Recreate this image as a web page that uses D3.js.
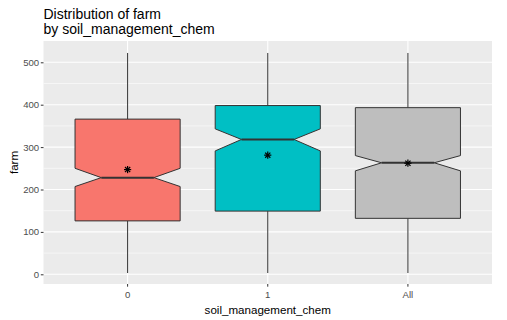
<!DOCTYPE html>
<html>
<head>
<meta charset="utf-8">
<script src="https://cdn.jsdelivr.net/npm/d3@7"></script>
<style>
body { margin: 0; background: #fff; }
svg { display: block; font-family: "Liberation Sans", Arial, sans-serif; }
</style>
</head>
<body>
<svg id="chart" width="507" height="320"></svg>
<script>
// ---- data ----
const categories = ["0", "1", "All"];
const whiskerLow = [3, 3, 3];
const q1 = [126, 149, 132];
const medians = [228, 318, 263];
const q3 = [366, 398, 393];
const whiskerHigh = [522, 522, 522];
const notchLow = [207, 291, 244];
const notchHigh = [250, 343, 280];
const means = [247, 281, 262];
const fillColors = ["#F8766D", "#00BFC4", "#BEBEBE"];
const yTicks = [0, 100, 200, 300, 400, 500];
const yMinor = [50, 150, 250, 350, 450];

const titleLines = ["Distribution of farm", "by soil_management_chem"];
const xTitle = "soil_management_chem";
const yTitle = "farm";

// ---- layout ----
const svg = d3.select("#chart");
const panel = { left: 43.5, right: 492, top: 41, bottom: 284 };

const y = d3.scaleLinear().domain([0, 500]).range([274.3, 62.3]);
const x = d3.scaleBand().domain(categories)
  .range([panel.left, panel.right]).paddingOuter(0.1).paddingInner(0);
const bw = x.bandwidth();
const cx = c => x(c) + bw / 2;
const boxW = bw * 0.75;

// panel background
svg.append("rect")
  .attr("x", panel.left).attr("y", panel.top)
  .attr("width", panel.right - panel.left).attr("height", panel.bottom - panel.top)
  .attr("fill", "#EBEBEB");

const grid = svg.append("g");
grid.selectAll("line.minor").data(yMinor).join("line")
  .attr("x1", panel.left).attr("x2", panel.right)
  .attr("y1", d => y(d)).attr("y2", d => y(d))
  .attr("stroke", "#fff").attr("stroke-width", 0.55);
grid.selectAll("line.major").data(yTicks).join("line")
  .attr("x1", panel.left).attr("x2", panel.right)
  .attr("y1", d => y(d)).attr("y2", d => y(d))
  .attr("stroke", "#fff").attr("stroke-width", 1.1);
grid.selectAll("line.xg").data(categories).join("line")
  .attr("x1", d => cx(d)).attr("x2", d => cx(d))
  .attr("y1", panel.top).attr("y2", panel.bottom)
  .attr("stroke", "#fff").attr("stroke-width", 1.1);

// boxes
const boxes = svg.append("g");
categories.forEach((c, i) => {
  const xc = cx(c);
  const l = xc - boxW / 2, r = xc + boxW / 2;
  const inset = boxW * 0.25;
  boxes.append("line")
    .attr("x1", xc).attr("x2", xc)
    .attr("y1", y(q3[i])).attr("y2", y(whiskerHigh[i]))
    .attr("stroke", "#333333").attr("stroke-width", 1);
  boxes.append("line")
    .attr("x1", xc).attr("x2", xc)
    .attr("y1", y(q1[i])).attr("y2", y(whiskerLow[i]))
    .attr("stroke", "#333333").attr("stroke-width", 1);
  const pts = [
    [l, y(q3[i])], [l, y(notchHigh[i])], [l + inset, y(medians[i])],
    [l, y(notchLow[i])], [l, y(q1[i])], [r, y(q1[i])],
    [r, y(notchLow[i])], [r - inset, y(medians[i])], [r, y(notchHigh[i])],
    [r, y(q3[i])]
  ];
  boxes.append("path")
    .attr("d", d3.line()(pts) + "Z")
    .attr("fill", fillColors[i])
    .attr("stroke", "#333333").attr("stroke-width", 1);
  boxes.append("line")
    .attr("x1", l + inset).attr("x2", r - inset)
    .attr("y1", y(medians[i])).attr("y2", y(medians[i]))
    .attr("stroke", "#333333").attr("stroke-width", 2);
  const my = y(means[i]);
  const s = 3.6;
  const d = s * 0.72;
  const star = boxes.append("g").attr("stroke", "#000").attr("stroke-width", 1.2);
  star.append("line").attr("x1", xc - s).attr("x2", xc + s).attr("y1", my).attr("y2", my);
  star.append("line").attr("x1", xc).attr("x2", xc).attr("y1", my - s).attr("y2", my + s);
  star.append("line").attr("x1", xc - d).attr("x2", xc + d).attr("y1", my - d).attr("y2", my + d);
  star.append("line").attr("x1", xc - d).attr("x2", xc + d).attr("y1", my + d).attr("y2", my - d);
});

// y axis
const yAxis = svg.append("g")
  .attr("transform", `translate(${panel.left},0)`)
  .call(d3.axisLeft(y).tickValues(yTicks).tickSize(2.7).tickPadding(1.6));
yAxis.select(".domain").remove();
yAxis.selectAll(".tick line").attr("stroke", "#333333").attr("stroke-width", 1);
yAxis.selectAll(".tick text").attr("fill", "#4D4D4D")
  .style("font-size", "9.6px").style("font-family", "Liberation Sans, Arial, sans-serif");

// x axis
const xAxis = svg.append("g")
  .attr("transform", `translate(0,${panel.bottom})`)
  .call(d3.axisBottom(x).tickSize(2.7).tickPadding(4.6));
xAxis.select(".domain").remove();
xAxis.selectAll(".tick line").attr("stroke", "#333333").attr("stroke-width", 1);
xAxis.selectAll(".tick text").attr("fill", "#4D4D4D")
  .style("font-size", "9.6px").style("font-family", "Liberation Sans, Arial, sans-serif");

// titles
svg.append("text")
  .attr("x", (panel.left + panel.right) / 2).attr("y", 313.5)
  .attr("text-anchor", "middle").attr("font-size", 11.6).attr("fill", "#000")
  .text(xTitle);
svg.append("text")
  .attr("transform", `translate(18,${(panel.top + panel.bottom) / 2}) rotate(-90)`)
  .attr("text-anchor", "middle").attr("font-size", 11.6).attr("fill", "#000")
  .text(yTitle);
svg.append("text")
  .attr("x", panel.left).attr("y", 19.2)
  .attr("font-size", 14).attr("fill", "#000")
  .text(titleLines[0]);
svg.append("text")
  .attr("x", panel.left).attr("y", 34)
  .attr("font-size", 14).attr("fill", "#000")
  .text(titleLines[1]);
</script>
</body>
</html>
